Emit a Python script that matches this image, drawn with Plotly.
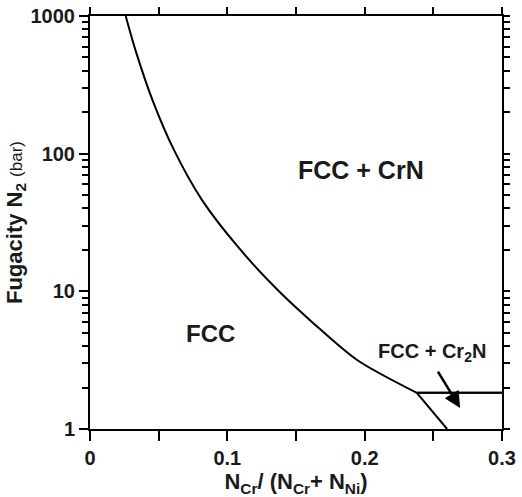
import numpy as np
import plotly.graph_objects as go

# Phase boundary FCC / FCC+CrN
boundary_x = [0.026, 0.0331, 0.0455, 0.0612, 0.0816, 0.1078, 0.1376, 0.1624, 0.1945, 0.238]
boundary_y = [1000, 565, 245, 106, 46, 21, 10, 5.9, 3.17, 1.83]
# FCC / FCC+Cr2N boundary
lower_x = [0.238, 0.26]
lower_y = [1.83, 1.0]
# CrN / Cr2N boundary
horiz_x = [0.238, 0.3]
horiz_y = [1.83, 1.83]

x_ticks = [0, 0.1, 0.2, 0.3]
x_ticklabels = ["0", "0.1", "0.2", "0.3"]
y_ticks = [1, 10, 100, 1000]
y_ticklabels = ["1", "10", "100", "1000"]

FONT = "Liberation Sans, Arial, Helvetica, sans-serif"
line = dict(color="black", width=2)

fig = go.Figure()
fig.add_trace(go.Scatter(x=boundary_x, y=boundary_y, mode="lines",
                         line=dict(color="black", width=2, shape="spline", smoothing=0.8),
                         showlegend=False))
fig.add_trace(go.Scatter(x=lower_x, y=lower_y, mode="lines", line=line, showlegend=False))
fig.add_trace(go.Scatter(x=horiz_x, y=horiz_y, mode="lines", line=line, showlegend=False))
# same line on the mirrored axes so the top/right tick axes are drawn
fig.add_trace(go.Scatter(x=horiz_x, y=horiz_y, mode="lines", line=line, xaxis="x2", yaxis="y2",
                         showlegend=False))

lbl = dict(family=FONT, color="#1a1a1a", weight="bold")
fig.add_annotation(x=0.197, y=np.log10(76), text="FCC + CrN", showarrow=False,
                   font=dict(size=25, **lbl))
fig.add_annotation(x=0.0874, y=np.log10(4.98), text="FCC", showarrow=False,
                   font=dict(size=24, **lbl))
fig.add_annotation(x=0.249, y=np.log10(3.62), text="FCC + Cr<sub>2</sub>N", showarrow=False,
                   font=dict(size=20, **lbl))
fig.add_annotation(x=0.2695, y=np.log10(1.42), ax=0.2527, ay=np.log10(2.68),
                   xref="x", yref="y", axref="x", ayref="y", text="",
                   showarrow=True, arrowhead=2, arrowsize=1.3, arrowwidth=2.5, arrowcolor="black")

tickfont = dict(family=FONT, size=20, color="#1a1a1a", weight="bold")
hidden_font = dict(family=FONT, size=10, color="white")

fig.update_layout(
    xaxis=dict(range=[0, 0.3], tickvals=x_ticks, ticktext=x_ticklabels,
               ticks="outside", ticklen=10, tickwidth=2, tickcolor="black",
               minor=dict(dtick=0.05, ticks="outside", ticklen=10, tickwidth=2, tickcolor="black"),
               showline=True, linecolor="black", linewidth=2, mirror=True,
               showgrid=False, zeroline=False, tickfont=tickfont,
               title=dict(text="N<sub>Cr</sub>/ (N<sub>Cr</sub>+ N<sub>Ni</sub>)",
                          font=dict(family=FONT, size=22, color="#1a1a1a", weight="bold"), standoff=6)),
    yaxis=dict(type="log", range=[0, 3], tickvals=y_ticks, ticktext=y_ticklabels,
               ticks="outside", ticklen=9, tickwidth=2, tickcolor="black",
               minor=dict(dtick="D1", ticks="outside", ticklen=6, tickwidth=1.5, tickcolor="black"),
               showline=True, linecolor="black", linewidth=2, mirror=True,
               showgrid=False, zeroline=False, tickfont=tickfont,
               title=dict(text="Fugacity N<sub>2</sub> <span style='font-size:17px;font-weight:normal'>(bar)</span>",
                          font=dict(family=FONT, size=22, color="#1a1a1a", weight="bold"), standoff=2)),
    xaxis2=dict(range=[0, 0.3], overlaying="x", side="top", dtick=0.05,
                ticks="outside", ticklen=8, tickwidth=2, tickcolor="black",
                tickfont=hidden_font, showgrid=False, zeroline=False),
    yaxis2=dict(type="log", range=[0, 3], overlaying="y", side="right",
                ticks="outside", ticklen=7, tickwidth=1.5, tickcolor="black",
                tickfont=hidden_font, showgrid=False, zeroline=False),
    width=522, height=497, margin=dict(l=90, r=20, t=16, b=68, autoexpand=False),
    paper_bgcolor="white", plot_bgcolor="white")

fig.write_html("out.html", config={"displayModeBar": False},
               post_script="document.body.style.margin='0';document.body.style.overflow='hidden';")
